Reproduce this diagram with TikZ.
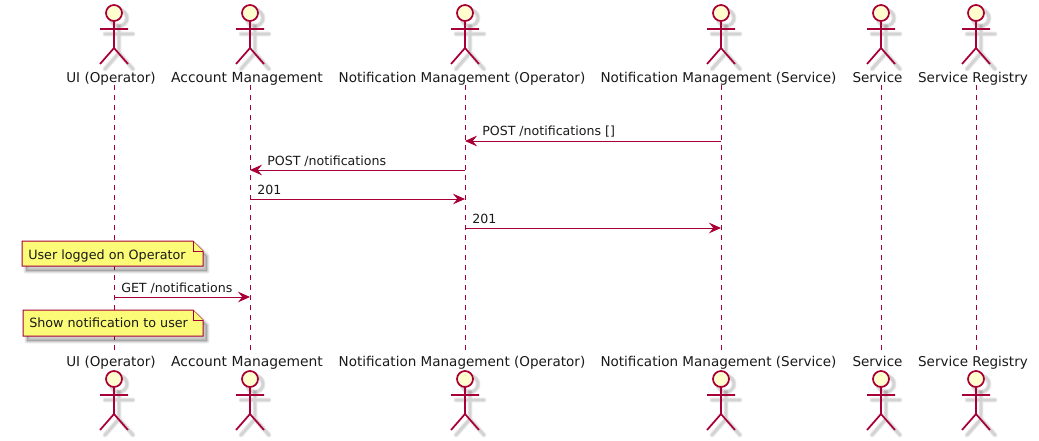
\documentclass[tikz,border=0pt]{standalone}
\usepackage{fontspec}
\setmainfont{DejaVu Sans}
\usetikzlibrary{arrows.meta}
\definecolor{seqline}{RGB}{168,0,54}
\definecolor{headfill}{RGB}{254,254,206}
\definecolor{notefill}{RGB}{251,251,119}
\tikzset{
  actorname/.style={anchor=base,inner sep=0pt,text height=10.5pt,text depth=2.25pt,font=\fontsize{10.15}{12}\selectfont,text=black!90},
  widername/.style={font=\fontsize{10.4}{12}\selectfont},
  msgtext/.style={anchor=base west,inner sep=0pt,font=\fontsize{9.45}{12}\selectfont,text=black!90},
  notetext/.style={anchor=base west,inner sep=0pt,font=\fontsize{9.55}{12}\selectfont,text=black!90},
  lifeline/.style={seqline,line width=0.7pt,dash pattern=on 3.75pt off 3.75pt},
  msg/.style={seqline,line width=0.75pt,-{Stealth[length=9pt,width=8pt,inset=3.2pt]}},
  notebox/.style={draw=seqline,fill=notefill,line width=0.75pt,line join=miter},
  softedge/.style={draw=black,fill=black,opacity=0.1,line width=#1,line join=round},
  softline/.style={draw=black,opacity=0.09,line width=#1,line cap=round},
  actor/.pic={
    % shadow
    \draw[softline=3.6pt] (5,18) circle (8);
    \draw[softline=2pt] (5,18) circle (8);
    \draw[softline=3.6pt] (5,26) -- (5,53) (-9,34) -- (19,34) (-9,69) -- (5,53) -- (19,69);
    \draw[softline=2pt] (5,26) -- (5,53) (-9,34) -- (19,34) (-9,69) -- (5,53) -- (19,69);
    % figure
    \draw[seqline,fill=headfill,line width=1.3pt] (0,13) circle (8);
    \draw[seqline,line width=1.3pt] (0,21) -- (0,48) (-14,29) -- (14,29) (-14,64) -- (0,48) -- (14,64);
  }
}
\begin{document}
\begin{tikzpicture}[x=0.75pt,y=0.75pt,yscale=-1,xscale=1]
\useasboundingbox (0,0) rectangle (1039,440);

% Top actors
\pic[transform shape] at (114,0) {actor};
\pic[transform shape] at (250,0) {actor};
\pic[transform shape] at (465,0) {actor};
\pic[transform shape] at (721,0) {actor};
\pic[transform shape] at (881,0) {actor};
\pic[transform shape] at (976,0) {actor};
% Bottom actors
\pic[transform shape] at (114,366) {actor};
\pic[transform shape] at (250,366) {actor};
\pic[transform shape] at (465,366) {actor};
\pic[transform shape] at (721,366) {actor};
\pic[transform shape] at (881,366) {actor};
\pic[transform shape] at (976,366) {actor};

% Top names
\node[actorname] (uiTop) at (111,82) {UI (Operator)};
\node[actorname,widername] (accTop) at (247,82) {Account Management};
\node[actorname] (opTop) at (462,82) {Notification Management (Operator)};
\node[actorname] (svcTop) at (718.5,82) {Notification Management (Service)};
\node[actorname] (serTop) at (877.5,82) {Service};
\node[actorname] (regTop) at (973,82) {Service Registry};
% Bottom names
\node[actorname] (uiBot) at (111,366) {UI (Operator)};
\node[actorname,widername] (accBot) at (247,366) {Account Management};
\node[actorname] (opBot) at (462,366) {Notification Management (Operator)};
\node[actorname] (svcBot) at (718.5,366) {Notification Management (Service)};
\node[actorname] (serBot) at (877.5,366) {Service};
\node[actorname] (regBot) at (973,366) {Service Registry};

% Lifelines
\coordinate (uiA) at (114,85);   \coordinate (uiB) at (114,352);
\coordinate (accA) at (250,85);  \coordinate (accB) at (250,352);
\coordinate (opA) at (465,85);   \coordinate (opB) at (465,352);
\coordinate (svcA) at (721,85);  \coordinate (svcB) at (721,352);
\coordinate (serA) at (881,85);  \coordinate (serB) at (881,352);
\coordinate (regA) at (976,85);  \coordinate (regB) at (976,352);
\draw[lifeline] (uiA) -- (uiB);
\draw[lifeline] (accA) -- (accB);
\draw[lifeline] (opA) -- (opB);
\draw[lifeline] (svcA) -- (svcB);
\draw[lifeline] (serA) -- (serB);
\draw[lifeline] (regA) -- (regB);

% Messages
\draw[msg] (svcA |- 0,141) -- (opA |- 0,141);
\node[msgtext] (postOne) at (482,135.5) {POST /notifications []};
\draw[msg] (opA |- 0,170) -- (accA |- 0,170);
\node[msgtext] (postTwo) at (267,165) {POST /notifications};
\draw[msg] (accA |- 0,199) -- (opA |- 0,199);
\node[msgtext] (okOne) at (257,194.5) {201};
\draw[msg] (opA |- 0,228) -- (svcA |- 0,228);
\node[msgtext] (okTwo) at (472,223.5) {201};
\draw[msg] (uiA |- 0,297) -- (accA |- 0,297);
\node[msgtext] (getOne) at (121,292) {GET /notifications};

% Notes
\path[softedge=3.6pt] (26,246) -- (197,246) -- (207,256) -- (207,271) -- (26,271) -- cycle;
\path[softedge=1.5pt] (26,246) -- (197,246) -- (207,256) -- (207,271) -- (26,271) -- cycle;
\draw[notebox] (22,241) -- (193,241) -- (203,251) -- (203,266) -- (22,266) -- cycle;
\draw[notebox] (193,241) -- (193,251) -- (203,251);
\node[notetext] (noteOne) at (28,259) {User logged on Operator};
\path[softedge=3.6pt] (27,315) -- (197,315) -- (207,325) -- (207,341) -- (27,341) -- cycle;
\path[softedge=1.5pt] (27,315) -- (197,315) -- (207,325) -- (207,341) -- (27,341) -- cycle;
\draw[notebox] (23,310) -- (193,310) -- (203,320) -- (203,336) -- (23,336) -- cycle;
\draw[notebox] (193,310) -- (193,320) -- (203,320);
\node[notetext] (noteTwo) at (29,327) {Show notification to user};

\end{tikzpicture}
\end{document}
